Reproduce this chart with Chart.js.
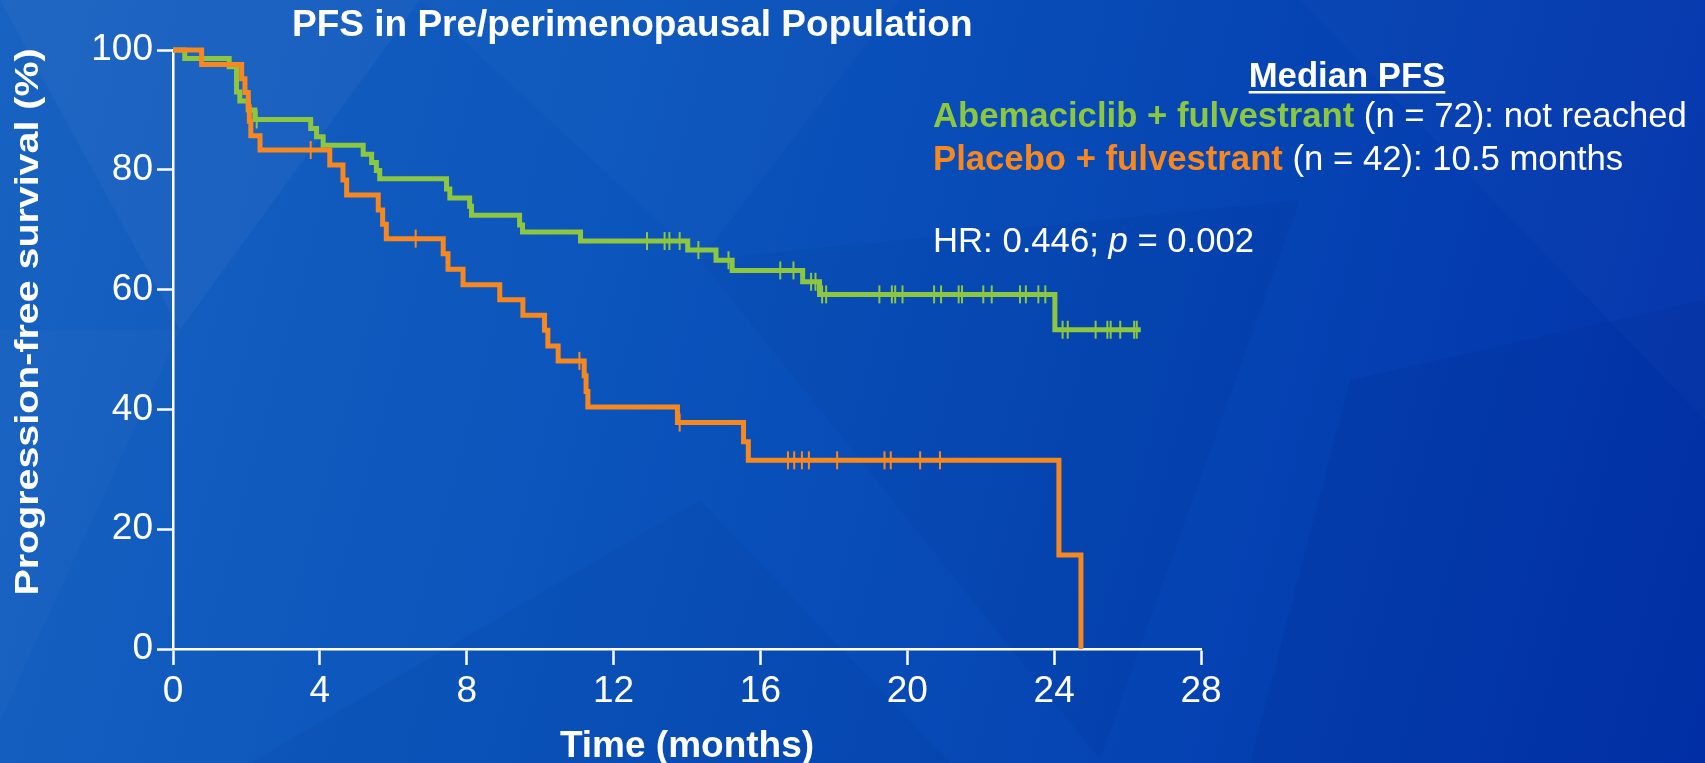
<!DOCTYPE html>
<html>
<head>
<meta charset="utf-8">
<title>PFS in Pre/perimenopausal Population</title>
<script src="https://cdn.jsdelivr.net/npm/chart.js@4.4.1/dist/chart.umd.min.js"></script>
<style>
  html, body { margin: 0; padding: 0; width: 1705px; height: 763px; overflow: hidden; }
  body {
    background: linear-gradient(105deg, #1862c1 0%, #0b55bc 35%, #0646b4 65%, #0231aa 100%);
  }
  #wrap { position: relative; width: 1705px; height: 763px; }
  #facets, #pfsChart { position: absolute; left: 0; top: 0; }
</style>
</head>
<body>
<div id="wrap">
  <svg id="facets" width="1705" height="763">
    <polygon points="0,0 420,0 180,330" fill="rgba(255,255,255,0.035)"/>
    <polygon points="0,330 180,330 0,720" fill="rgba(255,255,255,0.025)"/>
    <polygon points="420,0 900,0 700,260" fill="rgba(255,255,255,0.02)"/>
    <polygon points="700,260 1300,200 1100,760" fill="rgba(0,0,40,0.03)"/>
    <polygon points="1300,0 1705,0 1705,420" fill="rgba(255,255,255,0.02)"/>
    <polygon points="1350,380 1705,300 1705,763 1250,763" fill="rgba(0,0,60,0.05)"/>
    <polygon points="250,763 700,500 950,763" fill="rgba(0,0,50,0.035)"/>
  </svg>
  <canvas id="pfsChart" width="1705" height="763"></canvas>
</div>
<script>
// Kaplan-Meier steps: time (months) and survival (%) after each drop
const abemaTimes = [0, 0.32, 1.53, 1.73, 1.82, 2.05, 2.23, 3.75, 3.91, 4.09, 5.18, 5.41, 5.54, 5.63, 7.45, 7.54, 8.08, 8.13, 9.44, 9.52, 11.1, 14.02, 14.79, 15.23, 17.15, 17.61, 24.02, 26.36];
const abemaSurv = [100, 98.6, 97.2, 93.0, 91.5, 90.0, 88.4, 86.9, 85.5, 84.1, 82.6, 81.2, 79.9, 78.5, 76.8, 75.3, 73.9, 72.4, 70.8, 69.6, 68.1, 66.6, 64.9, 63.2, 61.3, 59.2, 53.3, 53.3];
const abemaCensored = [2.28, 12.91, 13.39, 13.52, 13.80, 14.31, 15.13, 16.54, 16.90, 17.38, 17.50, 17.68, 17.79, 19.24, 19.58, 19.67, 19.87, 20.73, 20.92, 21.40, 21.49, 22.07, 22.30, 23.07, 23.23, 23.57, 23.76, 24.23, 24.37, 25.13, 25.45, 25.54, 25.80, 26.18, 26.25];

const placeboTimes = [0, 0.78, 1.87, 1.96, 2.05, 2.08, 2.12, 2.37, 4.27, 4.63, 4.73, 5.59, 5.71, 5.81, 7.36, 7.49, 7.90, 8.90, 9.53, 10.12, 10.21, 10.49, 11.20, 11.25, 11.30, 13.74, 15.54, 15.67, 24.13, 24.73];
const placeboSurv = [100, 97.6, 95.2, 92.9, 90.5, 88.1, 85.7, 83.3, 80.8, 78.3, 75.8, 73.3, 70.9, 68.5, 66.0, 63.4, 60.8, 58.3, 55.7, 53.2, 50.6, 48.1, 45.6, 43.0, 40.4, 37.8, 34.6, 31.5, 15.7, 0];
const placeboCensored = [3.75, 6.61, 11.07, 13.80, 16.75, 16.92, 17.13, 17.32, 18.09, 19.38, 19.55, 20.35, 20.89];

const xTicks = [0, 4, 8, 12, 16, 20, 24, 28];
const yTicks = [0, 20, 40, 60, 80, 100];

const chartTitle = "PFS in Pre/perimenopausal Population";
const xTitle = "Time (months)";
const yTitle = "Progression-free survival (%)";
const abemaLabel = "Abemaciclib + fulvestrant";
const abemaNote = " (n = 72): not reached";
const placeboLabel = "Placebo + fulvestrant";
const placeboNote = " (n = 42): 10.5 months";

const green = "#8dc63f";
const orange = "#f7881f";
const FONT = '"Liberation Sans", Arial, Helvetica, sans-serif';

function kmPoints(times, surv) {
  return times.map((t, i) => ({ x: t, y: surv[i] }));
}

// censor marks sit on the curve level at their time
function censorPoints(times, surv, censored) {
  return censored.map((c) => {
    let s = surv[0];
    times.forEach((t, i) => {
      if (t <= c) s = surv[i];
    });
    return { x: c, y: s };
  });
}

function drawRuns(ctx, x, y, runs) {
  runs.forEach((r) => {
    ctx.font = r.font;
    ctx.fillStyle = r.color;
    ctx.fillText(r.text, x, y);
    x += ctx.measureText(r.text).width;
  });
}

const slideText = {
  id: "slideText",
  afterDraw(chart) {
    const ctx = chart.ctx;
    ctx.save();
    ctx.textBaseline = "alphabetic";
    ctx.textAlign = "left";
    ctx.fillStyle = "#fff";

    ctx.font = "bold 37px " + FONT;
    ctx.fillText(chartTitle, 292, 36);

    // rotated y axis title
    ctx.save();
    ctx.translate(38, 322);
    ctx.rotate(-Math.PI / 2);
    ctx.font = "bold 33px " + FONT;
    const yw = ctx.measureText(yTitle).width;
    ctx.scale(547 / yw, 1);
    ctx.textAlign = "center";
    ctx.fillText(yTitle, 0, 0);
    ctx.restore();

    // median PFS block
    ctx.font = "bold 34.7px " + FONT;
    const mw = ctx.measureText("Median PFS").width;
    const mx = 1347 - mw / 2;
    ctx.fillText("Median PFS", mx, 87);
    ctx.fillRect(mx, 91, mw, 2.5);

    const bold = "bold 34.7px " + FONT;
    const reg = "34.7px " + FONT;
    drawRuns(ctx, 933, 127, [
      { text: abemaLabel, font: bold, color: green },
      { text: abemaNote, font: reg, color: "#fff" },
    ]);
    drawRuns(ctx, 933, 170, [
      { text: placeboLabel, font: bold, color: orange },
      { text: placeboNote, font: reg, color: "#fff" },
    ]);
    drawRuns(ctx, 933, 252, [
      { text: "HR: 0.446; ", font: reg, color: "#fff" },
      { text: "p", font: "italic 34.7px " + FONT, color: "#fff" },
      { text: " = 0.002", font: reg, color: "#fff" },
    ]);
    ctx.restore();
  },
};

const canvas = document.getElementById("pfsChart");

new Chart(canvas, {
  type: "line",
  data: {
    datasets: [
      {
        label: placeboLabel,
        data: kmPoints(placeboTimes, placeboSurv),
        borderColor: orange,
        borderWidth: 5,
        stepped: "before",
        pointRadius: 0,
        fill: false,
        clip: false,
        order: 1,
      },
      {
        label: placeboLabel + " censored",
        data: censorPoints(placeboTimes, placeboSurv, placeboCensored),
        showLine: false,
        pointStyle: "line",
        rotation: 90,
        pointRadius: 9,
        pointBorderWidth: 2,
        pointBorderColor: orange,
        borderColor: orange,
        clip: false,
        order: 0,
      },
      {
        label: abemaLabel,
        data: kmPoints(abemaTimes, abemaSurv),
        borderColor: green,
        borderWidth: 5,
        stepped: "before",
        pointRadius: 0,
        fill: false,
        clip: false,
        order: 3,
      },
      {
        label: abemaLabel + " censored",
        data: censorPoints(abemaTimes, abemaSurv, abemaCensored),
        showLine: false,
        pointStyle: "line",
        rotation: 90,
        pointRadius: 9,
        pointBorderWidth: 2,
        pointBorderColor: green,
        borderColor: green,
        clip: false,
        order: 2,
      },
    ],
  },
  options: {
    responsive: false,
    animation: false,
    events: [],
    layout: { padding: { top: 50, right: 504, left: 0, bottom: 0 } },
    plugins: {
      legend: { display: false },
      tooltip: { enabled: false },
      title: { display: false },
    },
    scales: {
      x: {
        type: "linear",
        min: 0,
        max: 28,
        afterBuildTicks: (scale) => {
          scale.ticks = xTicks.map((v) => ({ value: v }));
        },
        afterFit: (scale) => {
          scale.height = 114;
        },
        ticks: {
          color: "#fff",
          padding: 5,
          maxRotation: 0,
          font: { family: FONT, size: 37 },
        },
        grid: {
          drawOnChartArea: false,
          tickLength: 16,
          tickColor: "#fff",
          tickWidth: 2.5,
        },
        border: { color: "#fff", width: 2.5 },
        title: {
          display: true,
          text: xTitle,
          color: "#fff",
          padding: { top: 0, bottom: 0 },
          font: { family: FONT, size: 37, weight: "bold", lineHeight: 0.9 },
        },
      },
      y: {
        min: 0,
        max: 100,
        afterBuildTicks: (scale) => {
          scale.ticks = yTicks.map((v) => ({ value: v }));
        },
        afterFit: (scale) => {
          scale.width = 173;
        },
        ticks: {
          color: "#fff",
          padding: 4,
          font: { family: FONT, size: 37 },
        },
        grid: {
          drawOnChartArea: false,
          tickLength: 16,
          tickColor: "#fff",
          tickWidth: 2.5,
        },
        border: { color: "#fff", width: 2.5 },
      },
    },
  },
  plugins: [slideText],
});
</script>
</body>
</html>
